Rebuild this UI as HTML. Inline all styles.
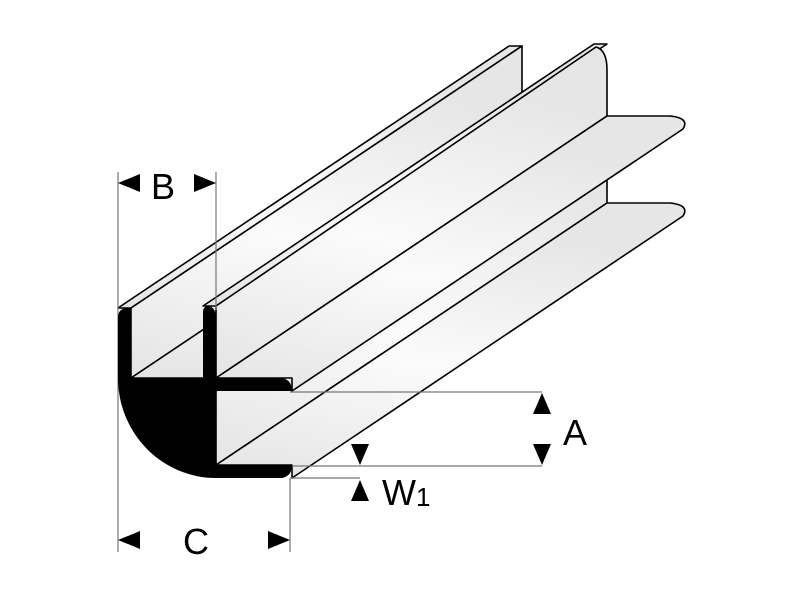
<!DOCTYPE html>
<html><head><style>html,body{margin:0;padding:0;background:#fff}svg{display:block}</style></head>
<body>
<svg width="800" height="600" viewBox="0 0 800 600" xmlns="http://www.w3.org/2000/svg">
<defs>
<linearGradient id="g" x1="0" y1="1" x2="0.3" y2="0">
<stop offset="0" stop-color="#e4e4e4"/><stop offset="0.5" stop-color="#fbfbfb"/><stop offset="1" stop-color="#e6e6e6"/>
</linearGradient>
</defs>
<g stroke="#000" stroke-width="1.6" stroke-linejoin="round" fill="url(#g)">
<polygon points="118,308 509,46 522,46 131,308"/>
<polygon points="131,308 522,46 522,116 131,378"/>
<polygon points="131,378 522,116 594,116 203,378"/>
<polygon points="203,306 594,44 607,44 216,306"/>
<path d="M216,306 L596,47 Q607,50 607,70 L607,116 L216,378 Z"/>
<polygon points="216,391 607,129 607,203 216,465"/>
<path d="M216,465 L607,203 L670,203 Q690,205 683,216 L292,478 L292,465 Z"/>
<path d="M216,378 L607,116 L670,116 Q690,118 683,129 L292,391 L292,378 Z"/>
</g>
<g stroke="#777" stroke-width="1.2" fill="none">
<line x1="118" y1="172" x2="118" y2="552"/>
<line x1="216" y1="172" x2="216" y2="310"/>
<line x1="290" y1="478" x2="290" y2="552"/>
<line x1="290" y1="392" x2="542" y2="392"/>
<line x1="290" y1="466" x2="542" y2="466"/>
<line x1="290" y1="478" x2="360" y2="478"/>
</g>
<g fill="#000">
<path d="M118,318 Q118,308 128,308 L131,308 L131,378 L203,378 L203,312 Q203,306 209,306 Q216,308 216,318 L216,378 L282,378 Q292,380 292,391 L216,391 L216,465 L292,465 Q292,476 282,478 L216,478 A98,100 0 0 1 118,378 Z"/>
</g>
<g fill="#000">
<polygon points="118,183 140,174 140,192"/>
<polygon points="216,183 194,174 194,192"/>
<polygon points="118,540 140,531 140,549"/>
<polygon points="290,540 268,531 268,549"/>
<polygon points="542,393 533,414 551,414"/>
<polygon points="542,465 533,444 551,444"/>
<polygon points="360,465 351,444 369,444"/>
<polygon points="360,480 351,501 369,501"/>
</g>
<g font-family="'Liberation Sans', sans-serif" fill="#000">
<text x="151" y="199" font-size="36">B</text>
<text x="183" y="554" font-size="36">C</text>
<text x="563" y="445" font-size="36">A</text>
<text x="382" y="505" font-size="36">W</text>
<text x="416" y="506" font-size="26">1</text>
</g>
</svg>
</body></html>
